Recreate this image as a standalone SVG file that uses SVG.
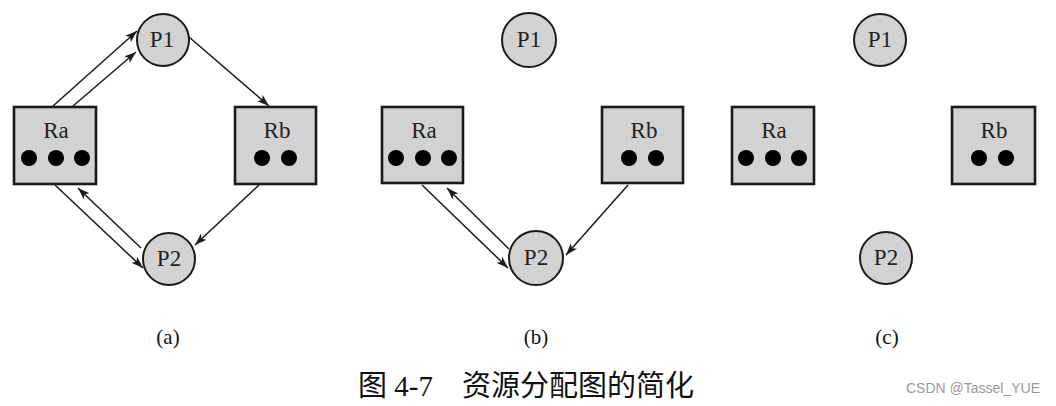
<svg xmlns="http://www.w3.org/2000/svg" width="1056" height="406" viewBox="0 0 1056 406">
<style>
.box{fill:#d2d2d2;stroke:#1a1a1a;stroke-width:2.6}
.proc{fill:#d2d2d2;stroke:#1a1a1a;stroke-width:2}
.dot{fill:#000}
.lbl{font-family:"Liberation Serif",serif;font-size:23px;fill:#222;text-anchor:middle}
.sub{font-family:"Liberation Serif",serif;font-size:21px;fill:#111;text-anchor:middle}
.edge{stroke:#1a1a1a;stroke-width:1.5;fill:none;marker-end:url(#ah)}
</style>
<defs>
<marker id="ah" markerUnits="userSpaceOnUse" markerWidth="14" markerHeight="10" refX="12" refY="5" orient="auto">
<path d="M0,0.8 L12,5 L0,9.2 L3,5 Z" fill="#1a1a1a"/>
</marker>
</defs>
<rect width="1056" height="406" fill="#fff"/>

<g id="connectors">
<line class="edge" x1="53" y1="106" x2="137" y2="31"/>
<line class="edge" x1="73" y1="106" x2="136" y2="52"/>
<line class="edge" x1="189" y1="37" x2="269" y2="106"/>
<line class="edge" x1="259" y1="185" x2="195" y2="245"/>
<line class="edge" x1="55" y1="185" x2="143" y2="268"/>
<line class="edge" x1="141" y1="248" x2="78" y2="188"/>
<line class="edge" x1="422" y1="185" x2="508" y2="268"/>
<line class="edge" x1="509" y1="249" x2="447" y2="188"/>
<line class="edge" x1="628" y1="185" x2="566" y2="255"/>
</g>

<g id="a-P1"><circle class="proc" cx="163" cy="40" r="26"/><text class="lbl" x="162" y="47">P1</text></g>
<g id="a-P2"><circle class="proc" cx="169" cy="259" r="26"/><text class="lbl" x="169" y="266">P2</text></g>
<g id="a-Ra"><rect class="box" x="14" y="107" width="82" height="77"/><text class="lbl" x="56" y="138">Ra</text>
<circle class="dot" cx="29" cy="158" r="8"/><circle class="dot" cx="56" cy="158" r="8"/><circle class="dot" cx="82" cy="158" r="8"/></g>
<g id="a-Rb"><rect class="box" x="235" y="107" width="81" height="77"/><text class="lbl" x="277" y="138">Rb</text>
<circle class="dot" cx="262" cy="158" r="8"/><circle class="dot" cx="289" cy="158" r="8"/></g>

<g id="b-P1"><circle class="proc" cx="529" cy="40" r="27"/><text class="lbl" x="529" y="47">P1</text></g>
<g id="b-P2"><circle class="proc" cx="536" cy="258" r="27"/><text class="lbl" x="536" y="265">P2</text></g>
<g id="b-Ra"><rect class="box" x="382" y="107" width="81" height="76"/><text class="lbl" x="424" y="138">Ra</text>
<circle class="dot" cx="396" cy="158" r="8"/><circle class="dot" cx="423" cy="158" r="8"/><circle class="dot" cx="449" cy="158" r="8"/></g>
<g id="b-Rb"><rect class="box" x="602" y="107" width="81" height="76"/><text class="lbl" x="644" y="138">Rb</text>
<circle class="dot" cx="629" cy="158" r="8"/><circle class="dot" cx="656" cy="158" r="8"/></g>

<g id="c-P1"><circle class="proc" cx="880" cy="40" r="26"/><text class="lbl" x="880" y="47">P1</text></g>
<g id="c-P2"><circle class="proc" cx="886" cy="258" r="26"/><text class="lbl" x="886" y="265">P2</text></g>
<g id="c-Ra"><rect class="box" x="732" y="107" width="82" height="77"/><text class="lbl" x="774" y="138">Ra</text>
<circle class="dot" cx="746" cy="158" r="8"/><circle class="dot" cx="773" cy="158" r="8"/><circle class="dot" cx="799" cy="158" r="8"/></g>
<g id="c-Rb"><rect class="box" x="952" y="107" width="83" height="77"/><text class="lbl" x="994" y="138">Rb</text>
<circle class="dot" cx="979" cy="158" r="8"/><circle class="dot" cx="1006" cy="158" r="8"/></g>

<text class="sub" x="168" y="344">(a)</text>
<text class="sub" x="536" y="344">(b)</text>
<text class="sub" x="887" y="344">(c)</text>
<text x="358" y="396" font-family="'Liberation Serif','Noto Sans CJK SC',serif" font-size="29" fill="#111">图 4-7　资源分配图的简化</text>
<text x="1040" y="393" text-anchor="end" font-family="'Liberation Sans',sans-serif" font-size="14" fill="#999">CSDN @Tassel_YUE</text>
</svg>
